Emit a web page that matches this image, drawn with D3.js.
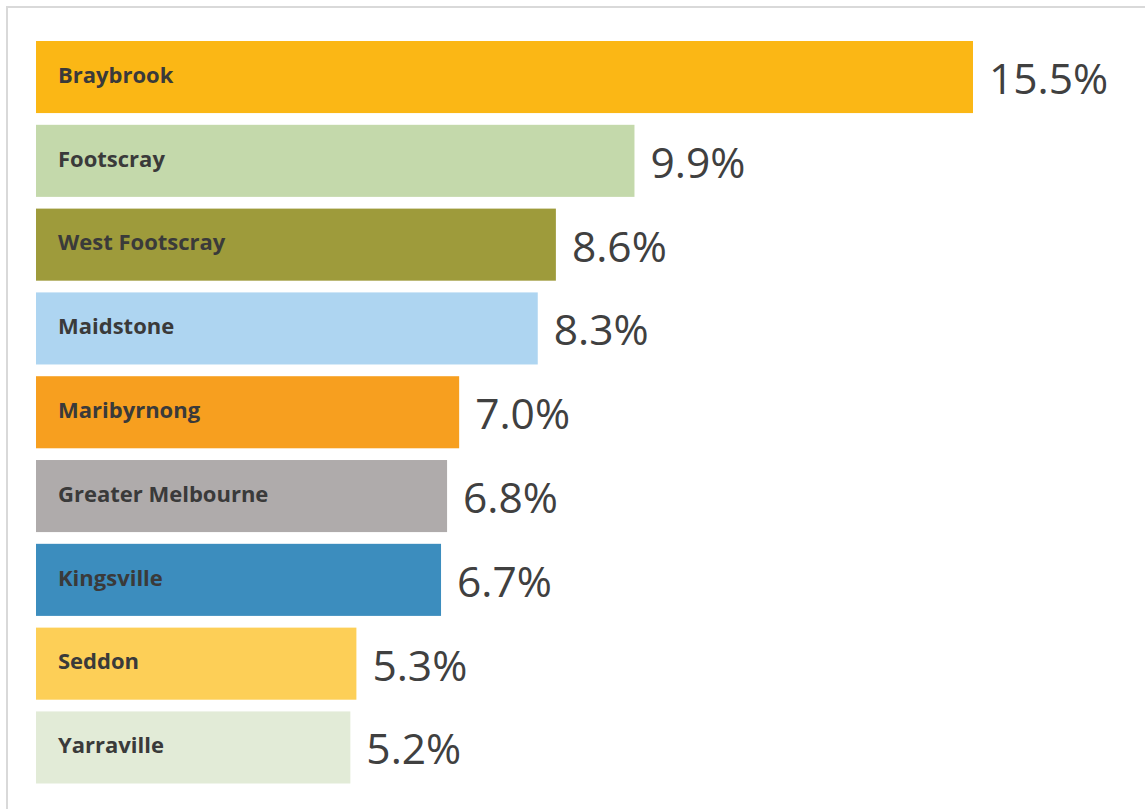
<!DOCTYPE html>
<html>
<head>
<meta charset="utf-8">
<script src="https://cdn.jsdelivr.net/npm/d3@7"></script>
<style>
    body { margin: 0; background: #fff; }
    svg { display: block; }
</style>
</head>
<body>
<div id="chart"></div>
<script>
const suburbs = ['Braybrook', 'Footscray', 'West Footscray', 'Maidstone', 'Maribyrnong',
    'Greater Melbourne', 'Kingsville', 'Seddon', 'Yarraville'];
const shares = [15.5, 9.9, 8.6, 8.3, 7.0, 6.8, 6.7, 5.3, 5.2];
const barColors = ['#fbb715', '#c4d9ab', '#9e9b3b', '#aed5f1', '#f79f1f',
    '#afabab', '#3c8dbe', '#fdcf57', '#e2ebd7'];

const data = suburbs.map((name, i) => ({ name, value: shares[i], color: barColors[i] }));

const width = 1145;
const height = 809;
const margin = { top: 41, right: 20, bottom: 25, left: 36 };

const svg = d3.select('#chart').append('svg')
    .attr('width', width)
    .attr('height', height);

// frame, only the top and left edges fall inside the picture
svg.append('rect')
    .attr('x', 7).attr('y', 7)
    .attr('width', width + 20).attr('height', height + 20)
    .attr('fill', 'none')
    .attr('stroke', '#d9d9d9')
    .attr('stroke-width', 2);

const xScale = d3.scaleLinear()
    .domain([0, 15.5])
    .range([margin.left, 973]);

const yScale = d3.scaleBand()
    .domain(suburbs)
    .range([margin.top, 783.5])
    .paddingInner(0.14)
    .paddingOuter(0);

const plot = svg.append('g');

plot.selectAll('.bar')
    .data(data)
    .enter()
    .append('rect')
    .classed('bar', true)
    .attr('x', xScale(0))
    .attr('y', d => yScale(d.name))
    .attr('width', d => xScale(d.value) - xScale(0))
    .attr('height', yScale.bandwidth())
    .attr('fill', d => d.color);

// names inside the bars
plot.selectAll('.name-label')
    .data(data)
    .enter()
    .append('text')
    .classed('name-label', true)
    .text(d => d.name)
    .attr('x', xScale(0) + 22)
    .attr('y', d => yScale(d.name) + yScale.bandwidth() / 2 - 2)
    .attr('dy', '0.35em')
    .attr('font-family', "'Open Sans', sans-serif")
    .attr('font-weight', 'bold')
    .attr('font-size', '22px')
    .attr('fill', '#3a3a3a');

// values after the bars
plot.selectAll('.value-label')
    .data(data)
    .enter()
    .append('text')
    .classed('value-label', true)
    .text(d => d.value.toFixed(1) + '%')
    .attr('x', d => xScale(d.value) + 16)
    .attr('y', d => yScale(d.name) + yScale.bandwidth() / 2 + 2)
    .attr('dy', '0.35em')
    .attr('font-family', "'Open Sans', sans-serif")
    .attr('font-size', '42.5px')
    .attr('fill', '#404040');
</script>
</body>
</html>
